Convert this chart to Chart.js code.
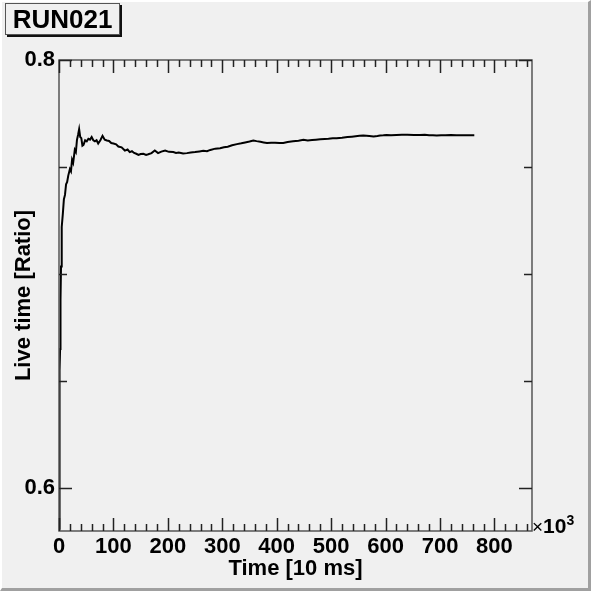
<!DOCTYPE html>
<html lang="en">
<head>
    <meta charset="UTF-8">
    <title>RUN021 Live time</title>
    <style>
        body {
            margin: 0;
            background-color: #f0f0f0;
            font-family: "Liberation Sans", Arial, sans-serif;
        }
        #wrap {
            position: relative;
            width: 591px;
            height: 591px;
            overflow: hidden;
        }
        #chart {
            position: absolute;
            left: 0;
            top: 0;
        }
        #bevel {
            position: absolute;
            left: 0;
            top: 0;
            width: 591px;
            height: 591px;
            box-sizing: border-box;
            border-top: 2px solid #ffffff;
            border-left: 2px solid #ffffff;
            border-right: 3px solid #a0a0a0;
            border-bottom: 3px solid #a0a0a0;
            pointer-events: none;
        }
        #title-box {
            position: absolute;
            left: 5px;
            top: 3px;
            width: 113px;
            height: 30px;
            border: 1px solid #555;
            box-shadow: 2px 2px 0 #111;
            background-color: #f0f0f0;
            font-weight: bold;
            font-size: 26px;
            line-height: 31px;
            text-align: center;
            color: #000;
        }
        #exponent {
            position: absolute;
            left: 532px;
            top: 512px;
            font-weight: bold;
            font-size: 21px;
            color: #000;
            white-space: nowrap;
        }
        #exponent .times { font-weight: normal; font-size: 19px; }
        #exponent sup { font-size: 14px; }
    </style>
    <script src="https://cdn.jsdelivr.net/npm/chart.js"></script>
</head>
<body>
<div id="wrap">
    <canvas id="chart" width="591" height="591"></canvas>
    <div id="title-box">RUN021</div>
    <div id="exponent"><span class="times">&times;</span>10<sup>3</sup></div>
    <div id="bevel"></div>
</div>
<script>
    // Time axis, units of 10 ms (x 10^3)
    const timeValues = [
        0, 0.5, 1, 1.5, 2, 2.5, 3, 3.7, 4.5, 5.5, 7, 9, 11, 13, 15, 17, 20, 22, 24, 26,
        29, 31, 33, 35, 37, 39, 41, 43, 45, 48, 51, 54, 57, 60, 63, 66, 69, 72, 76, 80,
        84, 88, 92, 96, 100, 105, 109, 115, 121, 126, 130, 134, 138, 142, 146, 150, 155, 160, 164, 170,
        176, 182, 188, 195, 202, 210, 215, 220, 228, 235, 242, 250, 258, 265, 272, 278, 287, 296, 303, 310,
        318, 327, 335, 342, 350, 357, 363, 370, 376, 382, 390, 397, 405, 412, 420, 430, 440, 449, 457, 465,
        472, 480, 488, 495, 503, 510, 520, 530, 538, 545, 552, 559, 565, 570, 578, 585, 590, 596, 602, 610,
        620, 630, 640, 652, 663, 672, 680, 687, 694, 702, 710, 720, 730, 738, 745, 755, 763
    ];
    // Live time ratio
    const liveRatio = [
        0.581, 0.620, 0.6415, 0.655, 0.665, 0.678, 0.688, 0.7035, 0.712, 0.722, 0.728, 0.735, 0.737, 0.742, 0.743, 0.746, 0.749, 0.748, 0.7534, 0.752,
        0.758, 0.757, 0.7627, 0.765, 0.7677, 0.764, 0.7635, 0.760, 0.7604, 0.7625, 0.762, 0.7632, 0.7628, 0.764, 0.7625, 0.762, 0.7625, 0.761, 0.7625, 0.7646,
        0.7628, 0.7624, 0.7622, 0.7612, 0.761, 0.7606, 0.7596, 0.7592, 0.7577, 0.7582, 0.757, 0.7574, 0.7566, 0.7562, 0.7557, 0.7561, 0.7562, 0.7557, 0.756, 0.7565,
        0.7577, 0.7565, 0.7572, 0.7577, 0.7571, 0.757, 0.7566, 0.7568, 0.7563, 0.7565, 0.7568, 0.757, 0.7573, 0.7576, 0.7574, 0.758, 0.7586, 0.7588, 0.7592, 0.7595,
        0.7602, 0.7607, 0.7611, 0.7615, 0.7619, 0.7624, 0.7621, 0.7618, 0.7615, 0.7612, 0.7614, 0.7614, 0.7612, 0.7612, 0.7617, 0.762, 0.7623, 0.7627, 0.7624, 0.7626,
        0.7628, 0.763, 0.7631, 0.7632, 0.7634, 0.7635, 0.7637, 0.764, 0.7642, 0.7644, 0.7646, 0.7647, 0.7646, 0.7645, 0.7643, 0.7645, 0.7647, 0.7648, 0.765, 0.7649,
        0.765, 0.7651, 0.7651, 0.765, 0.765, 0.7651, 0.7649, 0.7648, 0.7647, 0.7649, 0.7649, 0.765, 0.7649, 0.7648, 0.7648, 0.7649, 0.7649
    ];

    // Axis ranges and tick positions
    const xRange = [0, 869];
    const yRange = [0.58, 0.8];
    const xMajorTicks = [0, 100, 200, 300, 400, 500, 600, 700, 800];
    const xMinorStep = 20;
    const yTicks = [0.6, 0.65, 0.7, 0.75, 0.8];
    const yLabelled = [0.6, 0.8];

    const points = timeValues.map((t, i) => ({ x: t, y: liveRatio[i] }));

    // Frame and inward tick marks, ROOT style
    const frameTicks = {
        id: 'frameTicks',
        afterDraw(chart) {
            const { ctx, chartArea: a, scales } = chart;
            const xs = scales.x, ys = scales.y;
            ctx.save();
            ctx.strokeStyle = '#555';
            ctx.lineWidth = 1.5;
            ctx.strokeRect(a.left, a.top, a.right - a.left, a.bottom - a.top);

            ctx.strokeStyle = '#222';
            ctx.lineWidth = 1.5;
            ctx.beginPath();
            for (let v = 0; v <= xRange[1]; v += xMinorStep) {
                const px = Math.round(xs.getPixelForValue(v)) + 0.5;
                const len = v % 100 === 0 ? 13 : 7;
                ctx.moveTo(px, a.bottom);
                ctx.lineTo(px, a.bottom - len);
                ctx.moveTo(px, a.top);
                ctx.lineTo(px, a.top + len);
            }
            yTicks.forEach(v => {
                const py = Math.round(ys.getPixelForValue(v)) + 0.5;
                const len = yLabelled.includes(v) ? 13 : 8;
                ctx.moveTo(a.left, py);
                ctx.lineTo(a.left + len, py);
                ctx.moveTo(a.right, py);
                ctx.lineTo(a.right - len, py);
            });
            ctx.stroke();
            ctx.restore();
        }
    };

    const ctx = document.getElementById('chart').getContext('2d');
    new Chart(ctx, {
        type: 'line',
        data: {
            datasets: [{
                data: points,
                borderColor: '#000',
                borderWidth: 2,
                pointRadius: 0,
                fill: false,
                tension: 0
            }]
        },
        options: {
            responsive: false,
            animation: false,
            layout: { padding: { left: 0, top: 60, right: 59, bottom: 0 } },
            plugins: {
                legend: { display: false },
                tooltip: { enabled: false }
            },
            scales: {
                x: {
                    type: 'linear',
                    min: xRange[0],
                    max: xRange[1],
                    afterFit: s => { s.height = 60; },
                    afterBuildTicks: s => { s.ticks = xMajorTicks.map(v => ({ value: v })); },
                    grid: { display: false, drawTicks: false },
                    border: { display: false },
                    ticks: {
                        padding: 3,
                        color: '#000',
                        maxRotation: 0,
                        autoSkip: false,
                        font: { family: 'Liberation Sans', size: 22, weight: 'bold' }
                    },
                    title: {
                        display: true,
                        text: 'Time [10 ms]',
                        color: '#000',
                        padding: { bottom: 9 },
                        font: { family: 'Liberation Sans', size: 22, weight: 'bold' }
                    }
                },
                y: {
                    type: 'linear',
                    min: yRange[0],
                    max: yRange[1],
                    afterFit: s => { s.width = 59; },
                    afterBuildTicks: s => { s.ticks = yTicks.map(v => ({ value: v })); },
                    grid: { display: false, drawTicks: false },
                    border: { display: false },
                    ticks: {
                        padding: 4,
                        color: '#000',
                        autoSkip: false,
                        font: { family: 'Liberation Sans', size: 22, weight: 'bold' },
                        callback: v => yLabelled.some(l => Math.abs(l - v) < 1e-6) ? String(v) : ''
                    },
                    title: {
                        display: true,
                        text: 'Live time [Ratio]',
                        color: '#000',
                        padding: { top: 11 },
                        font: { family: 'Liberation Sans', size: 22, weight: 'bold' }
                    }
                }
            }
        },
        plugins: [frameTicks]
    });
</script>
</body>
</html>
